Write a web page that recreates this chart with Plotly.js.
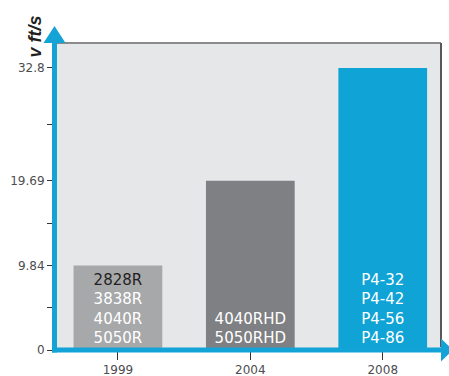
<!DOCTYPE html>
<html>
<head>
<meta charset="utf-8">
<script src="https://cdn.plot.ly/plotly-3.0.1.min.js"></script>
<style>
html,body{margin:0;padding:0;background:#fff;}
#chart{width:449px;height:376px;}
</style>
</head>
<body>
<div id="chart"></div>
<script>
// ---- data ----
const years = ['1999', '2004', '2008'];
const speeds = [9.84, 19.69, 32.8];           // v ft/s
const models = [
  ['2828R', '3838R', '4040R', '5050R'],
  ['4040RHD', '5050RHD'],
  ['P4-32', 'P4-42', 'P4-56', 'P4-86']
];
const highlightModel = '2828R';
const tickValues = [0, 4.92, 9.84, 14.76, 19.69, 26.25, 32.8];
const tickLabels = ['0', '', '9.84', '', '19.69', '', '32.8'];
const barColors = ['#a7a8aa', '#7f8083', '#0fa3d6'];

// ---- geometry helpers (pixel -> paper) ----
const W = 449, H = 376;
const L = 57, R = 441, T = 43, B = 350;
const px = x => (x - L) / (R - L);
const py = y => (B - y) / (B - T);

const barText = models.map(list => list.map(m =>
  m === highlightModel ? '<span style="color:#231f20">' + m + '</span>' : m
).join('<br>'));

const blue = '#14a3d6';
const sans = '"DejaVu Sans", "Liberation Sans", Arial, sans-serif';

const trace = {
  type: 'bar',
  x: years,
  y: speeds,
  marker: { color: barColors, line: { width: 0 } },
  text: barText,
  textposition: 'inside',
  insidetextanchor: 'start',
  constraintext: 'none',
  textfont: { family: sans, size: 15, color: '#ffffff' },
  hoverinfo: 'none',
  cliponaxis: false
};

const shapes = [
  // top border
  { type: 'line', xref: 'paper', yref: 'paper', x0: 0, x1: 1, y0: 1, y1: 1,
    line: { color: '#8b8b8d', width: 2 } },
  // right border
  { type: 'line', xref: 'paper', yref: 'paper', x0: 1, x1: 1, y0: py(347), y1: 1,
    line: { color: '#58585a', width: 2 } },
  // vertical blue axis
  { type: 'line', xref: 'paper', yref: 'paper', x0: px(54.5), x1: px(54.5), y0: py(352.5), y1: py(42),
    line: { color: blue, width: 5 } },
  // horizontal blue axis
  { type: 'line', xref: 'paper', yref: 'paper', x0: px(52), x1: px(442), y0: 0, y1: 0,
    line: { color: blue, width: 5 } },
  // top arrowhead
  { type: 'path', xref: 'paper', yref: 'paper',
    path: 'M' + px(43.5) + ',' + py(43) + ' L' + px(65.5) + ',' + py(43) + ' L' + px(54.5) + ',' + py(26) + ' Z',
    fillcolor: blue, line: { width: 0 } },
  // right arrowhead
  { type: 'path', xref: 'paper', yref: 'paper',
    path: 'M' + px(441) + ',' + py(338.5) + ' L' + px(441) + ',' + py(361.5) + ' L' + px(453) + ',' + py(350) + ' Z',
    fillcolor: blue, line: { width: 0 } }
];

const layout = {
  width: W, height: H,
  margin: { l: L, r: W - R, t: T, b: H - B, pad: 0 },
  paper_bgcolor: '#ffffff',
  plot_bgcolor: '#e6e7e8',
  showlegend: false,
  bargap: 0.33,
  font: { family: sans, color: '#4d4d4f', size: 12 },
  xaxis: {
    type: 'category',
    range: [-0.46, 2.44],
    showgrid: false, zeroline: false, showline: false,
    ticks: 'outside', ticklen: 9, tickwidth: 1, tickcolor: '#333333',
    tickfont: { size: 12, color: '#4d4d4f' },
    fixedrange: true
  },
  yaxis: {
    range: [0, (B - T) / 8.6],
    showgrid: false, zeroline: false, showline: false,
    tickmode: 'array', tickvals: tickValues, ticktext: tickLabels,
    ticks: 'outside', ticklen: 9, tickwidth: 1, tickcolor: '#333333',
    tickfont: { size: 12, color: '#4d4d4f' },
    fixedrange: true
  },
  shapes: shapes,
  annotations: [
    { text: '<b><i>v ft/s</i></b>', xref: 'paper', yref: 'paper',
      x: px(34.5), y: py(37), textangle: -90, showarrow: false,
      xanchor: 'center', yanchor: 'middle',
      font: { size: 18, color: '#231f20', family: '"Liberation Sans", Arial, Helvetica, sans-serif' } }
  ]
};

Plotly.newPlot('chart', [trace], layout, { displayModeBar: false, staticPlot: true });
</script>
</body>
</html>
